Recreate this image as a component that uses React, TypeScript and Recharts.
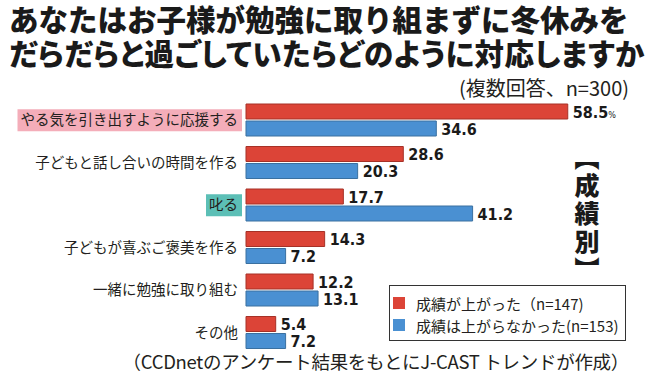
import React from "react";
import { BarChart, Bar, XAxis, YAxis, LabelList, Legend } from "recharts";

const categories = [
  "やる気を引き出すように応援する",
  "子どもと話し合いの時間を作る",
  "叱る",
  "子どもが喜ぶご褒美を作る",
  "一緒に勉強に取り組む",
  "その他",
];
const improved = [58.5, 28.6, 17.7, 14.3, 12.2, 5.4];
const notImproved = [34.6, 20.3, 41.2, 7.2, 13.1, 7.2];
const seriesNames = ["成績が上がった（n=147)", "成績は上がらなかった(n=153)"];
const labelBg: Record<string, string> = {
  "やる気を引き出すように応援する": "#f4adb9",
  "叱る": "#5cbfb6",
};

const data = categories.map((c, i) => ({ name: c, up: improved[i], down: notImproved[i] }));

const JP = '"Noto Sans CJK JP", sans-serif';
const NUM = '"DejaVu Sans Condensed", "DejaVu Sans", sans-serif';

const CategoryTick = (props: any) => {
  const { y, payload } = props;
  const label: string = payload.value;
  const fs = 14.5;
  const right = 238;
  const bg = labelBg[label];
  const w = label.length * fs;
  return (
    <g>
      {bg && <rect x={right - w - 3} y={y - 11} width={w + 7} height={22} fill={bg} />}
      <text x={right} y={y} dy={5} textAnchor="end" fontFamily={JP} fontSize={fs} fill="#231f20">
        {label}
      </text>
    </g>
  );
};

const ValueLabel = (props: any) => {
  const { x, y, width, height, value, index, withPct } = props;
  return (
    <text
      x={x + width + 5}
      y={y + height / 2 + 6}
      fontFamily={NUM}
      fontWeight="bold"
      fontSize={16}
      fill="#1a1a1a"
    >
      {value.toFixed(1)}
      {withPct && index === 0 && (
        <tspan fontSize={9} fontWeight="normal">%</tspan>
      )}
    </text>
  );
};

// inner box is absolute so the legend takes no room from the plot
const LegendBox = (props: any) => {
  const items = props.payload || [];
  return (
    <div
      style={{
        position: "absolute",
        left: 0,
        top: 0,
        border: "1px solid #333",
        background: "#fff",
        padding: "6px 0 4px 3px",
        width: 237,
        boxSizing: "border-box",
      }}
    >
      {items.map((it: any) => (
        <div key={it.value} style={{ display: "flex", alignItems: "center", height: 22 }}>
          <span style={{ width: 12, height: 12, background: it.color, marginRight: 11, display: "inline-block" }} />
          <span style={{ fontFamily: JP, fontSize: 15, color: "#231f20", whiteSpace: "nowrap" }}>{it.value}</span>
        </div>
      ))}
    </div>
  );
};

export default function App() {
  return (
    <div style={{ position: "absolute", left: 0, top: 0, width: 645, height: 378, background: "#fff", overflow: "hidden" }}>
      <div style={{ position: "absolute", left: 9, top: 1, fontFamily: JP, fontWeight: 900, fontSize: 29.5, lineHeight: "34px", color: "#1a1a1a", whiteSpace: "nowrap" }}>
        <div>あなたはお子様が勉強に取り組まずに冬休みを</div>
        <div style={{ fontFeatureSettings: '"palt"', letterSpacing: 0.5 }}>だらだらと過ごしていたらどのように対応しますか</div>
      </div>
      <div style={{ position: "absolute", right: 16, top: 73, fontFamily: JP, fontSize: 20, color: "#231f20", whiteSpace: "nowrap" }}>
        (複数回答、n=300)
      </div>
      <BarChart
        width={645}
        height={378}
        data={data}
        layout="vertical"
        margin={{ top: 99, right: 69, bottom: 24, left: 0 }}
        barSize={15}
        barGap={2}
      >
        <XAxis type="number" domain={[0, 60]} hide />
        <YAxis type="category" dataKey="name" width={246} axisLine={false} tickLine={false} tick={<CategoryTick />} />
        <Legend
          layout="vertical"
          verticalAlign="top"
          align="left"
          content={<LegendBox />}
          wrapperStyle={{ left: 389, top: 285, width: 0, height: 0 }}
        />
        <Bar dataKey="up" name={seriesNames[0]} fill="#dc4437" stroke="#a63127" strokeWidth={1} isAnimationActive={false}>
          <LabelList dataKey="up" content={<ValueLabel withPct />} />
        </Bar>
        <Bar dataKey="down" name={seriesNames[1]} fill="#4a90d2" stroke="#3a70a0" strokeWidth={1} isAnimationActive={false}>
          <LabelList dataKey="down" content={<ValueLabel />} />
        </Bar>
      </BarChart>
      <div style={{ position: "absolute", left: 572, top: 145, writingMode: "vertical-rl", fontFamily: JP, fontWeight: 900, fontSize: 25, lineHeight: "30px", letterSpacing: 3, color: "#1a1a1a" }}>
        【成績別】
      </div>
      <div style={{ position: "absolute", right: 16, top: 348, fontFamily: JP, fontSize: 18.5, letterSpacing: -0.3, color: "#231f20", whiteSpace: "nowrap" }}>
        （CCDnetのアンケート結果をもとにJ-CAST トレンドが作成）
      </div>
    </div>
  );
}
